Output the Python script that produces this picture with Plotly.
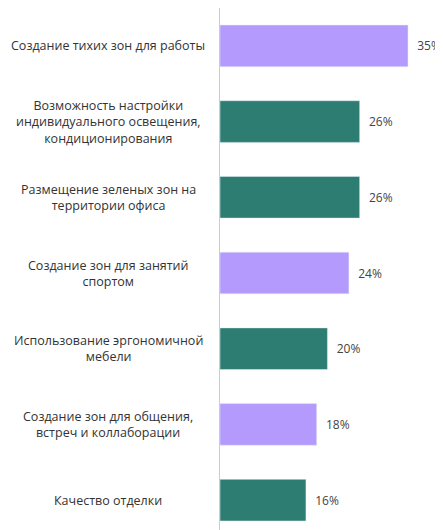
import plotly.graph_objects as go

categories = ["Создание тихих зон для работы",
              "Возможность настройки<br>индивидуального освещения,<br>кондиционирования",
              "Размещение зеленых зон на<br>территории офиса",
              "Создание зон для занятий<br>спортом",
              "Использование эргономичной<br>мебели",
              "Создание зон для общения,<br>встреч и коллаборации",
              "Качество отделки"]
values = [35, 26, 26, 24, 20, 18, 16]
colors = ["#b39afc", "#2e7d72", "#2e7d72", "#b39afc", "#2e7d72", "#b39afc", "#2e7d72"]

fig = go.Figure(go.Bar(
    x=values, y=categories, orientation="h", marker_color=colors, width=0.55,
    text=[f"  {v}%" for v in values], textposition="outside",
    textfont=dict(size=12, color="#444"), cliponaxis=False))
for c in categories:
    fig.add_annotation(x=-0.05, xref="paper", y=c, yref="y", text=c, showarrow=False,
                       xanchor="center", align="center", xshift=-100,
                       font=dict(size=12.5, color="#333", family="Open Sans"))
fig.update_layout(
    width=443, height=530, margin=dict(l=212, r=0, t=0, b=0, autoexpand=False),
    plot_bgcolor="white", paper_bgcolor="white", showlegend=False,
    font=dict(family="Open Sans", size=12, color="#333"),
    xaxis=dict(range=[0, 43], visible=False, automargin=False),
    yaxis=dict(autorange="reversed", showline=True, linecolor="#ccc", linewidth=1,
               showticklabels=False, ticks="", showgrid=False, automargin=False))
fig.write_html("out.html")
